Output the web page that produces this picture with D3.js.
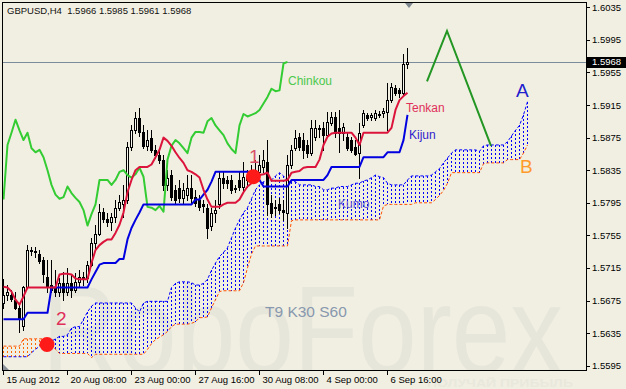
<!DOCTYPE html>
<html><head><meta charset="utf-8">
<script src="https://cdn.jsdelivr.net/npm/d3@7"></script>
<style>html,body{margin:0;padding:0;background:#f1efe2;overflow:hidden}svg{display:block}</style>
</head><body><svg id="c" width="626" height="389"></svg>
<script>
// ---------------- DATA ----------------
const header = "GBPUSD,H4  1.5966 1.5985 1.5961 1.5968";
const lastPrice = 1.5968;
const priceTicks = [1.5595,1.5635,1.5675,1.5715,1.5755,1.5795,1.5835,1.5875,1.5915,1.5955,1.5995,1.6035];
const timeLabels = ["15 Aug 2012","20 Aug 08:00","23 Aug 00:00","27 Aug 16:00","30 Aug 08:00","4 Sep 00:00","6 Sep 16:00"];
const timeLabelBars = [0,16,32,48,64,80,96];

const open = [1.5672,1.5682,1.5682,1.5676,1.5666,1.5644,1.5692,1.5736,1.5736,1.5732,
1.5725,1.5704,1.5694,1.5691,1.5686,1.5697,1.5686,1.5697,1.5688,1.5698,
1.5704,1.5703,1.5719,1.5746,1.5757,1.5784,1.5775,1.5772,1.5777,1.5789,
1.5794,1.5799,1.5864,1.5884,1.5899,1.5882,1.5865,1.5875,1.5860,1.5854,
1.5848,1.5817,1.5829,1.5811,1.5813,1.5801,1.5805,1.5813,1.5802,1.5799,
1.5793,1.5789,1.5766,1.5783,1.5793,1.5826,1.5823,1.5823,1.5813,1.5823,
1.5815,1.5827,1.5823,1.5829,1.5833,1.5839,1.5845,1.5795,1.5789,1.5793,
1.5786,1.5783,1.5842,1.5862,1.5876,1.5872,1.5866,1.5856,1.5876,1.5887,
1.5887,1.5878,1.5893,1.5900,1.5887,1.5881,1.5876,1.5872,1.5864,1.5856,
1.5890,1.5903,1.5900,1.5899,1.5904,1.5905,1.5906,1.5921,1.5936,1.5933,
1.5930,1.5966];
const high = [1.5701,1.5694,1.5688,1.5685,1.5672,1.5693,1.5743,1.5741,1.5741,1.5737,
1.5728,1.5725,1.5725,1.5713,1.5703,1.5710,1.5715,1.5707,1.5709,1.5713,
1.5710,1.5723,1.5752,1.5768,1.5793,1.5789,1.5783,1.5783,1.5799,1.5805,
1.5817,1.5870,1.5890,1.5906,1.5911,1.5890,1.5884,1.5884,1.5866,1.5860,
1.5854,1.5835,1.5835,1.5817,1.5823,1.5819,1.5829,1.5829,1.5811,1.5805,
1.5799,1.5793,1.5789,1.5799,1.5833,1.5833,1.5828,1.5829,1.5817,1.5833,
1.5845,1.5835,1.5842,1.5848,1.5854,1.5860,1.5872,1.5805,1.5799,1.5801,
1.5799,1.5854,1.5866,1.5884,1.5881,1.5881,1.5872,1.5897,1.5897,1.5890,
1.5894,1.5906,1.5906,1.5906,1.5909,1.5893,1.5882,1.5876,1.5872,1.5893,
1.5909,1.5905,1.5905,1.5909,1.5908,1.5911,1.5942,1.5942,1.5939,1.5936,
1.5978,1.5985];
const low = [1.5666,1.5676,1.5674,1.5664,1.5636,1.5639,1.5691,1.5731,1.5729,1.5721,
1.5698,1.5686,1.5685,1.5681,1.5680,1.5676,1.5682,1.5679,1.5686,1.5692,
1.5694,1.5698,1.5717,1.5740,1.5755,1.5772,1.5767,1.5762,1.5772,1.5786,
1.5778,1.5795,1.5860,1.5881,1.5877,1.5862,1.5860,1.5857,1.5850,1.5844,
1.5811,1.5811,1.5799,1.5793,1.5796,1.5795,1.5799,1.5795,1.5791,1.5786,
1.5784,1.5752,1.5762,1.5772,1.5789,1.5813,1.5813,1.5807,1.5808,1.5811,
1.5811,1.5815,1.5819,1.5826,1.5826,1.5833,1.5780,1.5777,1.5780,1.5783,
1.5774,1.5764,1.5838,1.5860,1.5860,1.5850,1.5851,1.5854,1.5872,1.5876,
1.5860,1.5876,1.5890,1.5876,1.5857,1.5872,1.5860,1.5857,1.5854,1.5826,
1.5888,1.5897,1.5897,1.5897,1.5900,1.5900,1.5884,1.5919,1.5927,1.5925,
1.5927,1.5961];
const close = [1.5682,1.5685,1.5677,1.5666,1.5652,1.5692,1.5737,1.5737,1.5735,1.5724,
1.5707,1.5692,1.5688,1.5686,1.5697,1.5686,1.5697,1.5688,1.5698,1.5704,
1.5703,1.5719,1.5746,1.5757,1.5784,1.5775,1.5772,1.5777,1.5789,1.5796,
1.5799,1.5864,1.5884,1.5899,1.5882,1.5865,1.5872,1.5860,1.5854,1.5848,
1.5817,1.5826,1.5802,1.5799,1.5801,1.5811,1.5813,1.5801,1.5795,1.5790,
1.5791,1.5764,1.5783,1.5786,1.5826,1.5819,1.5819,1.5811,1.5812,1.5815,
1.5827,1.5823,1.5829,1.5835,1.5842,1.5848,1.5793,1.5783,1.5790,1.5786,
1.5784,1.5842,1.5860,1.5875,1.5864,1.5860,1.5856,1.5887,1.5887,1.5886,
1.5878,1.5894,1.5900,1.5881,1.5881,1.5888,1.5862,1.5860,1.5855,1.5881,
1.5905,1.5899,1.5903,1.5905,1.5903,1.5908,1.5921,1.5937,1.5930,1.5930,
1.5966,1.5968];

const tenkan = [1.5692,1.5691,1.5686,1.5676,1.5670,1.5680,1.5691,1.5691,1.5691,1.5691,
1.5691,1.5691,1.5691,1.5691,1.5707,1.5708,1.5708,1.5707,1.5702,1.5701,
1.5701,1.5701,1.5721,1.5737,1.5743,1.5747,1.5750,1.5750,1.5758,1.5768,
1.5783,1.5808,1.5823,1.5835,1.5839,1.5839,1.5839,1.5842,1.5851,1.5860,
1.5875,1.5871,1.5865,1.5857,1.5850,1.5844,1.5835,1.5833,1.5830,1.5826,
1.5811,1.5799,1.5790,1.5790,1.5790,1.5793,1.5795,1.5795,1.5795,1.5799,
1.5808,1.5815,1.5819,1.5823,1.5829,1.5830,1.5832,1.5822,1.5822,1.5822,
1.5822,1.5823,1.5832,1.5833,1.5834,1.5838,1.5839,1.5839,1.5839,1.5848,
1.5866,1.5876,1.5880,1.5881,1.5881,1.5881,1.5881,1.5881,1.5875,1.5866,
1.5881,1.5881,1.5881,1.5881,1.5881,1.5881,1.5881,1.5887,1.5909,1.5921,
1.5926,1.5930];
const kijun = [1.5652,1.5652,1.5652,1.5652,1.5652,1.5652,1.5660,1.5660,1.5660,1.5660,
1.5660,1.5660,1.5691,1.5691,1.5691,1.5691,1.5691,1.5691,1.5691,1.5691,
1.5691,1.5691,1.5701,1.5710,1.5719,1.5721,1.5721,1.5721,1.5721,1.5726,
1.5726,1.5750,1.5764,1.5774,1.5783,1.5793,1.5793,1.5793,1.5793,1.5793,
1.5793,1.5793,1.5793,1.5793,1.5793,1.5793,1.5793,1.5793,1.5799,1.5799,
1.5805,1.5811,1.5821,1.5833,1.5833,1.5833,1.5833,1.5833,1.5833,1.5833,
1.5833,1.5833,1.5833,1.5833,1.5823,1.5815,1.5815,1.5815,1.5815,1.5815,
1.5815,1.5815,1.5823,1.5823,1.5823,1.5823,1.5823,1.5823,1.5823,1.5823,
1.5823,1.5829,1.5839,1.5839,1.5839,1.5839,1.5839,1.5839,1.5839,1.5839,
1.5851,1.5851,1.5851,1.5851,1.5851,1.5851,1.5857,1.5857,1.5857,1.5857,
1.5872,1.5903];
const chinkou = [1.5799,1.5866,1.5881,1.5897,1.5884,1.5872,1.5881,1.5862,1.5857,1.5860,
1.5851,1.5835,1.5817,1.5805,1.5800,1.5802,1.5815,1.5807,1.5801,1.5796,
1.5786,1.5767,1.5781,1.5793,1.5823,1.5823,1.5823,1.5817,1.5823,1.5833,
1.5835,1.5829,1.5826,1.5830,1.5838,1.5827,1.5790,1.5789,1.5786,1.5791,
1.5784,1.5848,1.5865,1.5872,1.5868,1.5862,1.5856,1.5875,1.5882,1.5882,
1.5881,1.5895,1.5899,1.5890,1.5884,1.5878,1.5868,1.5861,1.5856,1.5890,
1.5904,1.5901,1.5903,1.5905,1.5909,1.5917,1.5925,1.5935,1.5932,1.5933,
1.5966,1.5968];
const senkouA = [1.5606,1.5606,1.5606,1.5606,1.5606,1.5606,1.5606,1.5611,1.5615,1.5619,
1.5622,1.5625,1.5625,1.5628,1.5631,1.5631,1.5633,1.5641,1.5643,1.5643,
1.5652,1.5661,1.5668,1.5672,1.5672,1.5672,1.5672,1.5672,1.5672,1.5672,
1.5672,1.5672,1.5672,1.5666,1.5661,1.5672,1.5674,1.5674,1.5674,1.5674,
1.5674,1.5674,1.5691,1.5696,1.5698,1.5698,1.5698,1.5697,1.5694,1.5694,
1.5696,1.5701,1.5712,1.5721,1.5729,1.5734,1.5740,1.5752,1.5764,1.5774,
1.5783,1.5789,1.5800,1.5811,1.5817,1.5821,1.5821,1.5823,1.5828,1.5832,
1.5828,1.5821,1.5821,1.5821,1.5817,1.5817,1.5817,1.5817,1.5815,1.5815,
1.5811,1.5811,1.5813,1.5813,1.5815,1.5815,1.5815,1.5817,1.5819,1.5819,
1.5822,1.5823,1.5826,1.5829,1.5827,1.5826,1.5819,1.5817,1.5817,1.5817,
1.5817,1.5823,1.5828,1.5828,1.5828,1.5828,1.5828,1.5829,1.5833,1.5837,
1.5844,1.5850,1.5856,1.5860,1.5860,1.5860,1.5860,1.5860,1.5860,1.5858,
1.5865,1.5866,1.5866,1.5866,1.5866,1.5866,1.5870,1.5877,1.5884,1.5890,
1.5903,1.5919];
const senkouB = [1.5619,1.5619,1.5619,1.5619,1.5619,1.5628,1.5628,1.5628,1.5628,1.5628,
1.5628,1.5628,1.5621,1.5615,1.5610,1.5610,1.5610,1.5610,1.5610,1.5610,
1.5610,1.5610,1.5605,1.5609,1.5609,1.5609,1.5609,1.5609,1.5609,1.5609,
1.5609,1.5609,1.5609,1.5609,1.5609,1.5609,1.5615,1.5622,1.5627,1.5630,
1.5633,1.5637,1.5643,1.5646,1.5646,1.5646,1.5646,1.5647,1.5649,1.5654,
1.5654,1.5655,1.5666,1.5676,1.5686,1.5687,1.5687,1.5687,1.5687,1.5687,
1.5697,1.5715,1.5732,1.5742,1.5742,1.5742,1.5742,1.5742,1.5742,1.5742,
1.5742,1.5742,1.5773,1.5774,1.5774,1.5774,1.5774,1.5774,1.5774,1.5774,
1.5774,1.5774,1.5774,1.5774,1.5774,1.5774,1.5774,1.5774,1.5774,1.5774,
1.5774,1.5774,1.5774,1.5774,1.5774,1.5791,1.5793,1.5793,1.5793,1.5793,
1.5793,1.5793,1.5793,1.5795,1.5795,1.5795,1.5795,1.5795,1.5799,1.5804,
1.5810,1.5819,1.5832,1.5832,1.5832,1.5832,1.5832,1.5832,1.5832,1.5832,
1.5843,1.5844,1.5844,1.5844,1.5844,1.5844,1.5848,1.5848,1.5848,1.5848,
1.5856,1.5866];

const forecastBars = [106,111,122];
const forecastPrices = [1.5944,1.6006,1.5865];
const markerLabels = ["1","2"];
const markerBars = [62.6,11];
const markerPrices = [1.5827,1.5621];

// ---------------- DRAW ----------------
const bg = "#f1efe2";
const FONT = "Liberation Sans, Arial, sans-serif";
const svg = d3.select("#c");
const x = d3.scaleLinear().domain([0,146]).range([3,587]);
const y = d3.scaleLinear().domain([1.5595,1.6035]).range([365.7,7.3]);
const xi = i => Math.round(x(i)) + 0.5;

svg.append("rect").attr("width",626).attr("height",389).attr("fill",bg);
svg.append("clipPath").attr("id","pc").append("rect").attr("x",3).attr("y",3).attr("width",583).attr("height",367);
const g = svg.append("g").attr("clip-path","url(#pc)");

// watermark
g.append("text").attr("x",42).attr("y",373).attr("font-family",FONT).attr("font-size",124)
  .attr("fill","#e7e6db").attr("textLength",521).attr("lengthAdjust","spacingAndGlyphs").text("RoboForex");
svg.append("text").attr("x",427).attr("y",387).attr("font-family",FONT).attr("font-size",11).attr("font-weight","bold")
  .attr("fill","#e9e8dd").attr("textLength",146).attr("lengthAdjust","spacingAndGlyphs").text("ПОЛУЧАЙ ПРИБЫЛЬ");

// kumo hatch
const cloud = g.append("g").attr("shape-rendering","crispEdges");
senkouA.forEach((a,i)=>{
  const b = senkouB[i];
  cloud.append("line").attr("x1",xi(i)).attr("x2",xi(i)).attr("y1",Math.round(y(a))).attr("y2",Math.round(y(b)))
    .attr("stroke", a>=b ? "#0000ff" : "#ff6a00").attr("stroke-width",1).attr("stroke-dasharray","2,2");
});
const line = d3.line().x((d,i)=>xi(i)).y(d=>y(d));
g.append("path").datum(senkouA).attr("d",line).attr("fill","none").attr("stroke","#0000ff").attr("stroke-width",1).attr("stroke-dasharray","3,2");
g.append("path").datum(senkouB).attr("d",line).attr("fill","none").attr("stroke","#ff5000").attr("stroke-width",1).attr("stroke-dasharray","3,2");

// current price line
g.append("line").attr("x1",3).attr("x2",586).attr("y1",Math.round(y(lastPrice))+0.5).attr("y2",Math.round(y(lastPrice))+0.5)
  .attr("stroke","#7a8c9e").attr("stroke-width",1);

// candles
const cg = g.append("g").attr("shape-rendering","crispEdges");
close.forEach((c,i)=>{
  const o = open[i], cx = Math.round(x(i));
  cg.append("rect").attr("x",cx).attr("y",Math.round(y(high[i]))).attr("width",1)
    .attr("height",Math.max(1,Math.round(y(low[i]))-Math.round(y(high[i]))+1)).attr("fill","#000");
  const top = Math.round(y(Math.max(o,c))), bot = Math.round(y(Math.min(o,c)));
  const h = Math.max(1,bot-top+1);
  cg.append("rect").attr("x",cx-1).attr("y",top).attr("width",3).attr("height",h).attr("fill","#000");
  if (c>o && h>2) cg.append("rect").attr("x",cx).attr("y",top+1).attr("width",1).attr("height",h-2).attr("fill","#f7f6ee");
});

// indicator lines
const drawLine = (data,color,w)=> g.append("path").datum(data).attr("d",line).attr("fill","none")
  .attr("stroke",color).attr("stroke-width",w).attr("stroke-linejoin","round");
drawLine(chinkou,"#33cc33",2);
drawLine(kijun,"#0000e0",2);
drawLine(tenkan,"#dc143c",2);

// forecast
g.append("path").datum(forecastBars.map((b,k)=>[b,forecastPrices[k]]))
  .attr("d",d3.line().x(d=>x(d[0])).y(d=>y(d[1]))).attr("fill","none").attr("stroke","#239623").attr("stroke-width",2);

// markers
markerBars.forEach((b,k)=>{
  g.append("circle").attr("cx",x(b)).attr("cy",y(markerPrices[k])).attr("r",7.5).attr("fill","#ff1a1a");
});

// labels
const lab = (t,xx,yy,size,color)=> svg.append("text").attr("x",xx).attr("y",yy).attr("font-family",FONT)
  .attr("font-size",size).attr("fill",color).text(t);
lab("Chinkou",288,85,12,"#4cc94c");
lab("Tenkan",406,112,12,"#e0305a");
lab("Kijun",409,138.5,12,"#3322cc");
lab("Kumo",338,208,12,"#6052d0");
lab("A",516,97,19,"#2020cc");
lab("B",520,173,19,"#ff9a2a");
lab(markerLabels[0],249,163,19,"#d8506a");
lab(markerLabels[1],56,325,19,"#e0305a");
lab("T9 K30 S60",265,317,15.5,"#8898ae");

// frame
svg.append("rect").attr("x",2.5).attr("y",2.5).attr("width",584).attr("height",368).attr("fill","none").attr("stroke","#000").attr("shape-rendering","crispEdges");
svg.append("polygon").attr("points","405,3 413,3 409,8").attr("fill","#7d8790");
svg.append("polygon").attr("points","3,364 3,370 9,370").attr("fill","#8a9098");

// y axis
const ya = svg.append("g");
priceTicks.forEach(p=>{
  const yy = y(p);
  ya.append("line").attr("x1",587).attr("x2",590).attr("y1",Math.round(yy)+0.5).attr("y2",Math.round(yy)+0.5).attr("stroke","#000");
  ya.append("text").attr("x",592).attr("y",yy+3.5).attr("font-family",FONT).attr("font-size",9.5).attr("fill","#000").text(p.toFixed(4));
});
ya.append("rect").attr("x",587).attr("y",Math.round(y(lastPrice))-5).attr("width",39).attr("height",11).attr("fill","#000");
ya.append("text").attr("x",592).attr("y",y(lastPrice)+3.5).attr("font-family",FONT).attr("font-size",9.5).attr("fill","#fff").text(lastPrice.toFixed(4));

// x axis
timeLabelBars.forEach((b,k)=>{
  const xx = Math.round(x(b))+0.5;
  svg.append("line").attr("x1",xx).attr("x2",xx).attr("y1",371).attr("y2",375).attr("stroke","#000");
  svg.append("text").attr("x",xx+3).attr("y",383).attr("font-family",FONT).attr("font-size",9.5).attr("fill","#000").text(timeLabels[k]);
});

// header
svg.append("text").attr("x",7).attr("y",14).attr("font-family",FONT).attr("font-size",9.5).attr("fill","#111")
  .attr("xml:space","preserve").style("white-space","pre").text(header);
</script></body></html>
